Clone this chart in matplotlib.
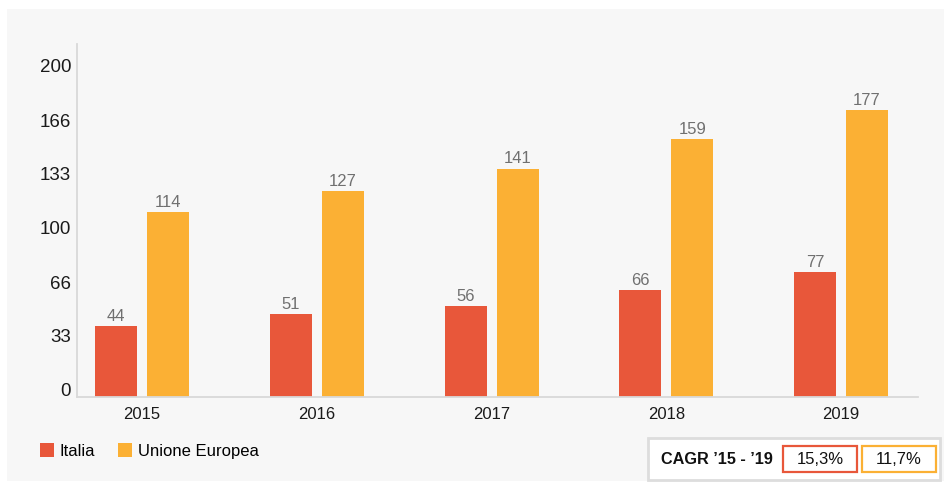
import numpy as np
import matplotlib
matplotlib.use('Agg')
import matplotlib.pyplot as plt
from matplotlib.patches import Rectangle
from matplotlib.transforms import ScaledTranslation

plt.rcParams['font.family'] = ['Liberation Sans', 'DejaVu Sans']

years = ['2015', '2016', '2017', '2018', '2019']
italia = [44, 51, 56, 66, 77]
unione_europea = [114, 127, 141, 159, 177]
y_ticks = [0, 33, 66, 100, 133, 166, 200]
series_names = ['Italia', 'Unione Europea']
cagr_title = 'CAGR \u201915 - \u201919'
cagr_values = ['15,3%', '11,7%']

RED = '#e8573a'
ORANGE = '#fbb034'
PANEL = '#f7f7f7'
AXIS = '#d9d9d9'

W, H = 944, 483
fig = plt.figure(figsize=(W / 100, H / 100), dpi=100)
fig.patch.set_facecolor('white')


def box(x0, y0, x1, y1):
    # pixel box (top-left origin) -> figure fraction rect
    return (x0 / W, 1 - y1 / H), (x1 - x0) / W, (y1 - y0) / H


xy, w, h = box(7, 9, 944, 481)
fig.patches.append(Rectangle(xy, w, h, transform=fig.transFigure,
                             facecolor=PANEL, edgecolor='none', zorder=-10))

ax = fig.add_axes([77 / W, 1 - 397 / H, (918 - 77) / W, (397 - 44) / H])
ax.set_facecolor('none')
ax.set_zorder(1)

step = 174.75
x = np.arange(len(years))
bw = 42 / step
off = 26 / step
b1 = ax.bar(x - off, italia, bw, color=RED, label=series_names[0])
b2 = ax.bar(x + off, unione_europea, bw, color=ORANGE, label=series_names[1])

for bars, vals in ((b1, italia), (b2, unione_europea)):
    for rect, v in zip(bars, vals):
        ax.annotate(str(v), (rect.get_x() + rect.get_width() / 2, v),
                    xytext=(0, 1.5), textcoords='offset points',
                    ha='center', va='bottom', fontsize=12, color='#707070')

ax.set_xlim(-65 / step, -65 / step + 841 / step)
ax.set_ylim(0, 353 / 1.62)

ax.set_xticks(x)
ax.set_xticklabels(years, fontsize=12, color='#1a1a1a')
ax.set_yticks(y_ticks)
ax.set_yticklabels([str(t) for t in y_ticks], fontsize=13.5, color='#1a1a1a')
ax.tick_params(axis='both', length=0)
ax.tick_params(axis='y', pad=4.3)
ax.tick_params(axis='x', pad=7.5)
for lab in ax.get_yticklabels():
    lab.set_transform(lab.get_transform() + ScaledTranslation(0, 8 / 100, fig.dpi_scale_trans))

for side in ('top', 'right'):
    ax.spines[side].set_visible(False)
for side in ('left', 'bottom'):
    ax.spines[side].set_color(AXIS)
    ax.spines[side].set_linewidth(1.3)

fig.legend(handles=[b1, b2], labels=series_names, loc='center left',
           bbox_to_anchor=(40 / W, 1 - 451 / H), ncol=2, frameon=False,
           fontsize=12, handlelength=0.84, handleheight=0.84,
           handletextpad=0.33, columnspacing=1.4, borderpad=0,
           borderaxespad=0)

# CAGR summary box
xy, w, h = box(648, 438, 940, 480)
fig.patches.append(Rectangle(xy, w, h, transform=fig.transFigure,
                             facecolor='white', edgecolor='#dddddd',
                             linewidth=2, zorder=1))
fig.text(661 / W, 1 - 460 / H, cagr_title, fontsize=11.7, fontweight='bold',
         ha='left', va='center', color='#111111')
for (x0, x1), col, txt in zip([(783, 857), (862, 936)], [RED, ORANGE], cagr_values):
    xy, w, h = box(x0, 446, x1, 472)
    fig.patches.append(Rectangle(xy, w, h, transform=fig.transFigure,
                                 facecolor='white', edgecolor=col,
                                 linewidth=1.6, zorder=2))
    fig.text((x0 + x1) / 2 / W, 1 - 459.5 / H, txt, fontsize=12,
             ha='center', va='center', color='#111111')

fig.savefig('out.png', dpi=100, facecolor=fig.get_facecolor())
